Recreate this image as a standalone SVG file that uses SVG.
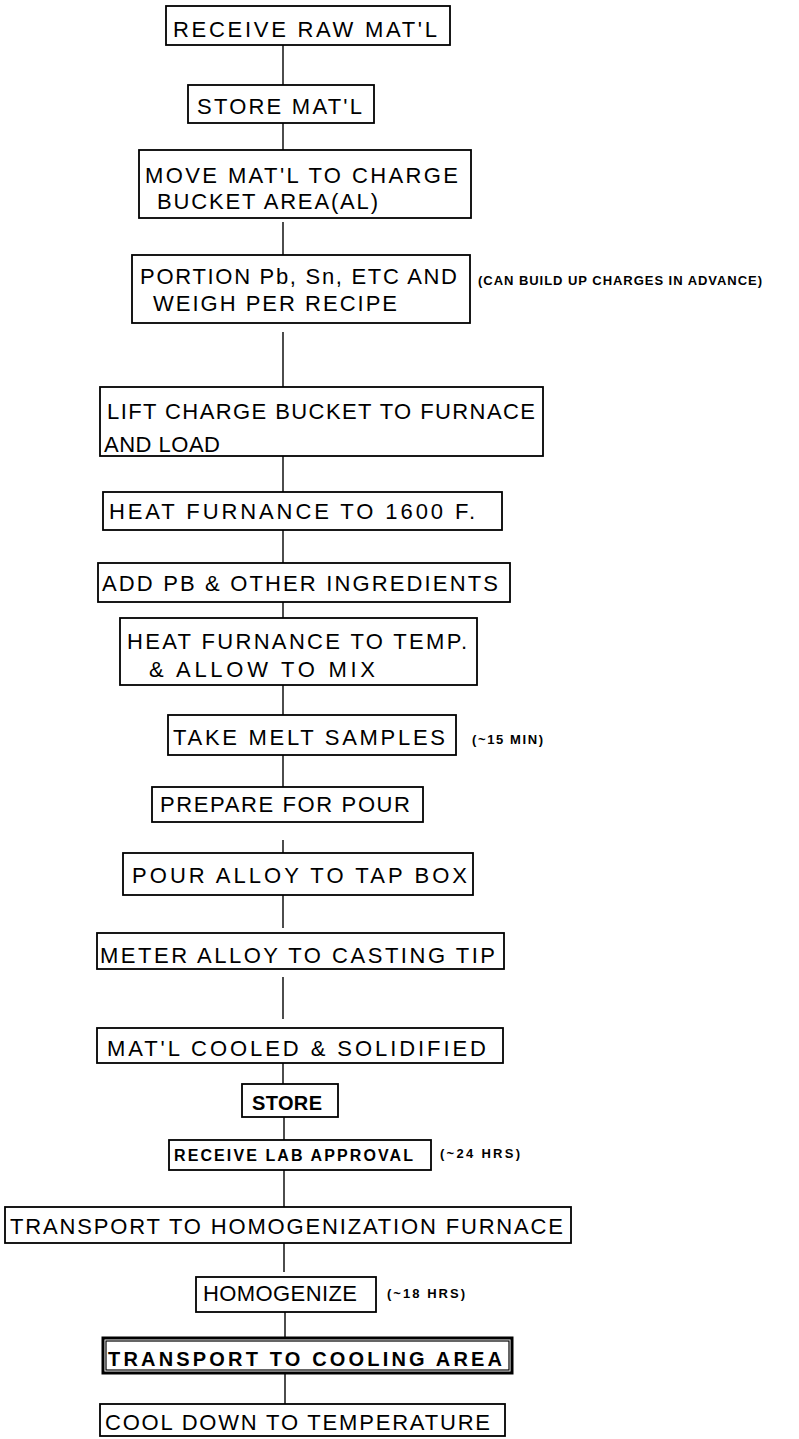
<svg xmlns="http://www.w3.org/2000/svg" width="799" height="1439" viewBox="0 0 799 1439">
<style>
  rect.b { fill: #fff; stroke: #000; stroke-width: 1.8; }
  rect.bb { fill: none; stroke: #000; stroke-width: 3; }
  text { font-family: "Liberation Sans", Arial, sans-serif; fill: #000; }
  .t { font-size: 22px; }
  .s { font-size: 16px; font-weight: bold; }
  .m { font-size: 20px; font-weight: bold; }
  .n { font-size: 13px; font-weight: bold; }
  #connectors line { stroke: #000; stroke-width: 1.4; }
</style>
<rect width="799" height="1439" fill="#fff"/>
<g id="connectors">
  <line x1="283" y1="45" x2="283" y2="85"/>
  <line x1="283" y1="117" x2="283" y2="150"/>
  <line x1="283" y1="222" x2="283" y2="255"/>
  <line x1="283" y1="332" x2="283" y2="387"/>
  <line x1="283" y1="456" x2="283" y2="492"/>
  <line x1="283" y1="530" x2="283" y2="563"/>
  <line x1="283" y1="598" x2="283" y2="618"/>
  <line x1="283" y1="685" x2="283" y2="715"/>
  <line x1="283" y1="755" x2="283" y2="787"/>
  <line x1="283" y1="840" x2="283" y2="853"/>
  <line x1="283" y1="895" x2="283" y2="928"/>
  <line x1="283" y1="977" x2="283" y2="1019"/>
  <line x1="283" y1="1063" x2="283" y2="1084"/>
  <line x1="284" y1="1117" x2="284" y2="1140"/>
  <line x1="284" y1="1170" x2="284" y2="1207"/>
  <line x1="284" y1="1243" x2="284" y2="1272"/>
  <line x1="285" y1="1312" x2="285" y2="1338"/>
  <line x1="285" y1="1373" x2="285" y2="1404"/>
</g>
<g id="n1"><rect class="b" x="166" y="6" width="284" height="39"/><text class="t" x="173" y="37" textLength="264">RECEIVE RAW MAT'L</text></g>
<g id="n2"><rect class="b" x="188" y="85" width="186" height="38"/><text class="t" x="197" y="114" textLength="165">STORE MAT'L</text></g>
<g id="n3"><rect class="b" x="139" y="150" width="332" height="68"/><text class="t" x="145" y="183" textLength="313">MOVE MAT'L TO CHARGE</text><text class="t" x="157" y="209" textLength="221">BUCKET AREA(AL)</text></g>
<g id="n4"><rect class="b" x="132" y="255" width="338" height="68"/><text class="t" x="140" y="284" textLength="317">PORTION Pb, Sn, ETC AND</text><text class="t" x="153" y="311" textLength="244">WEIGH PER RECIPE</text></g>
<g id="note1"><text class="n" x="478" y="285" textLength="284">(CAN BUILD UP CHARGES IN ADVANCE)</text></g>
<g id="n5"><rect class="b" x="100" y="387" width="443" height="69"/><text class="t" x="107" y="419" textLength="428">LIFT CHARGE BUCKET TO FURNACE</text><text class="t" x="104" y="452" textLength="116">AND LOAD</text></g>
<g id="n6"><rect class="b" x="103" y="492" width="399" height="38"/><text class="t" x="109" y="519" textLength="366">HEAT FURNANCE TO 1600 F.</text></g>
<g id="n7"><rect class="b" x="98" y="563" width="412" height="39"/><text class="t" x="102" y="591" textLength="396">ADD PB &amp; OTHER INGREDIENTS</text></g>
<g id="n8"><rect class="b" x="120" y="618" width="357" height="67"/><text class="t" x="127" y="649" textLength="340">HEAT FURNANCE TO TEMP.</text><text class="t" x="149" y="677" textLength="226">&amp; ALLOW TO MIX</text></g>
<g id="n9"><rect class="b" x="168" y="715" width="288" height="40"/><text class="t" x="173" y="745" textLength="272">TAKE MELT SAMPLES</text></g>
<g id="note2"><text class="n" x="472" y="744" textLength="71">(~15 MIN)</text></g>
<g id="n10"><rect class="b" x="152" y="787" width="271" height="35"/><text class="t" x="160" y="812" textLength="250">PREPARE FOR POUR</text></g>
<g id="n11"><rect class="b" x="123" y="853" width="350" height="42"/><text class="t" x="132" y="883" textLength="335">POUR ALLOY TO TAP BOX</text></g>
<g id="n12"><rect class="b" x="97" y="933" width="407" height="36"/><text class="t" x="100" y="963" textLength="395">METER ALLOY TO CASTING TIP</text></g>
<g id="n13"><rect class="b" x="97" y="1028" width="406" height="35"/><text class="t" x="107" y="1056" textLength="379">MAT'L COOLED &amp; SOLIDIFIED</text></g>
<g id="n14"><rect class="b" x="242" y="1084" width="96" height="33"/><text class="m" x="252" y="1110" textLength="70">STORE</text></g>
<g id="n15"><rect class="b" x="169" y="1140" width="262" height="30"/><text class="s" x="174" y="1161" textLength="239">RECEIVE LAB APPROVAL</text></g>
<g id="note3"><text class="n" x="440" y="1158" textLength="80">(~24 HRS)</text></g>
<g id="n16"><rect class="b" x="5" y="1207" width="566" height="36"/><text class="t" x="10" y="1234" textLength="553">TRANSPORT TO HOMOGENIZATION FURNACE</text></g>
<g id="n17"><rect class="b" x="196" y="1277" width="180" height="35"/><text class="t" x="203" y="1301" textLength="154">HOMOGENIZE</text></g>
<g id="note4"><text class="n" x="387" y="1298" textLength="78">(~18 HRS)</text></g>
<g id="n18"><rect class="bb" x="103" y="1338" width="409" height="35"/><rect class="b" x="106" y="1341" width="403" height="29" style="fill:none;stroke-width:1.2"/><text class="m" x="108" y="1366" textLength="394">TRANSPORT TO COOLING AREA</text></g>
<g id="n19"><rect class="b" x="100" y="1404" width="405" height="32"/><text class="t" x="105" y="1430" textLength="385">COOL DOWN TO TEMPERATURE</text></g>
</svg>
